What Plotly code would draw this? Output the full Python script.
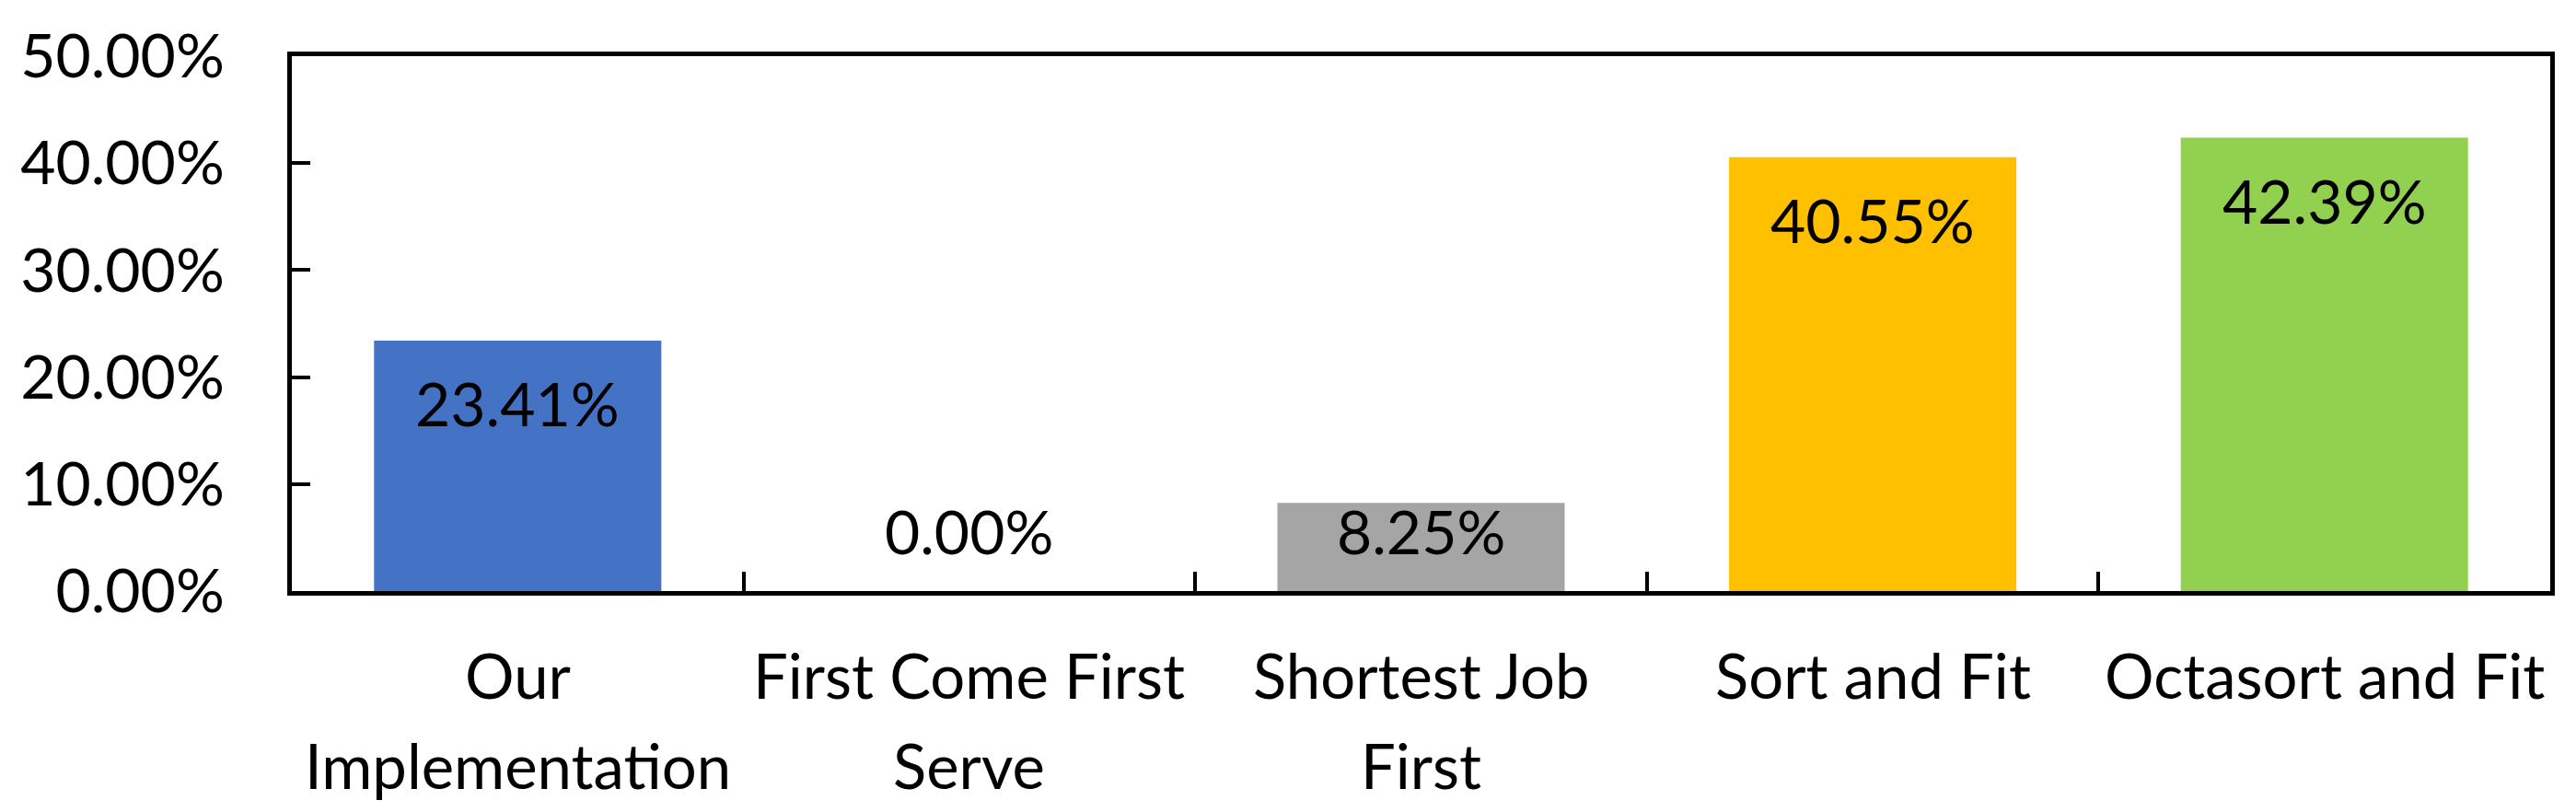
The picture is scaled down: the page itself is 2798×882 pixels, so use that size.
import plotly.graph_objects as go

categories = ['Our Implementation', 'First Come First Serve', 'Shortest Job First',
              'Sort and Fit', 'Octasort and Fit']
label_lines = [['Our', 'Implementation'], ['First Come First', 'Serve'], ['Shortest Job', 'First'],
               ['Sort and Fit'], ['Octasort and Fit']]
values = [23.41, 0.00, 8.25, 40.55, 42.39]
bar_colors = ['#4472C4', '#4472C4', '#A5A5A5', '#FFC000', '#92D050']
y_ticks = [0, 10, 20, 30, 40, 50]

FONT = 'Lato'

fig = go.Figure()
fig.add_trace(go.Bar(x=categories, y=values, marker_color=bar_colors, marker_line_width=0,
                     width=0.636, hoverinfo='x+y'))

# value labels: inside the bar end, but kept ~5.3% clear of the axis (Excel style)
for c, v in zip(categories, values):
    fig.add_annotation(x=c, y=max(v - 6.11, 5.34), text=f'{v:.2f}%', showarrow=False,
                       yanchor='middle', yshift=3, font=dict(family=FONT, size=66, color='black'))

# category labels, two lines with Excel-like spacing
for c, lines in zip(categories, label_lines):
    for i, line in enumerate(lines):
        fig.add_annotation(x=c, y=0, yref='paper', text=line, showarrow=False,
                           yanchor='middle', yshift=-91 - 98 * i,
                           font=dict(family=FONT, size=67, color='black'))

# page body has an 8px margin, so the figure is a bit smaller than the window
fig.update_layout(width=2790, height=874, margin=dict(l=309, r=28, t=53, b=240),
                  plot_bgcolor='white', paper_bgcolor='white', showlegend=False,
                  font=dict(family=FONT, size=66, color='black'))
fig.update_xaxes(showline=True, linecolor='black', linewidth=5, mirror=True,
                 ticks='inside', tickson='boundaries', ticklen=21, tickwidth=4, tickcolor='black',
                 showticklabels=False, showgrid=False)
fig.update_yaxes(range=[0, 50], showline=True, linecolor='black', linewidth=5, mirror=True,
                 tickvals=y_ticks, ticktext=[f'{t:.2f}%' for t in y_ticks],
                 ticks='inside', ticklen=20, tickwidth=4, tickcolor='black',
                 ticklabelstandoff=55, showgrid=False, zeroline=False)

fig.write_html('out.html')
